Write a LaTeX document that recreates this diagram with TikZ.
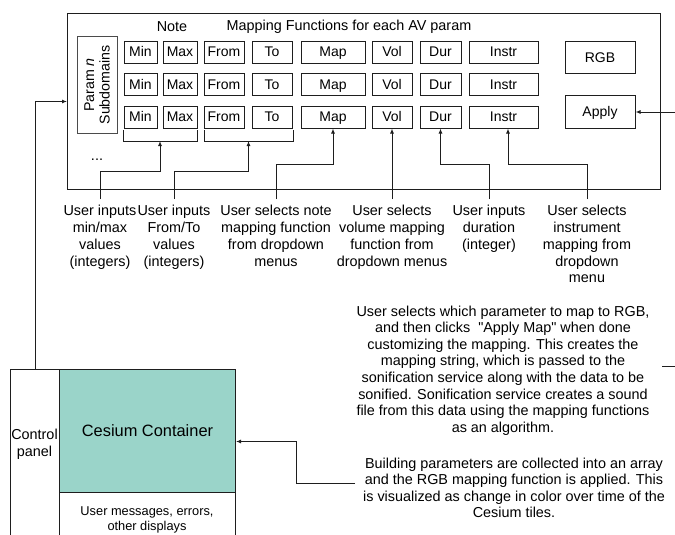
\documentclass[tikz,border=0pt]{standalone}
\usepackage{fontspec}
\setmainfont{Liberation Sans}[Ligatures=TeXOff]
\usetikzlibrary{arrows.meta,calc}
\definecolor{tealfill}{RGB}{154,212,201}
\definecolor{edge}{RGB}{30,30,30}
\begin{document}
\begin{tikzpicture}[x=1pt,y=-1pt,
  cell/.style={draw=edge, line width=1pt, minimum height=22pt, inner sep=0pt, text height=10.5pt, text depth=2pt, font=\fontsize{14}{16}\selectfont},
  lbl/.style={align=center, inner xsep=0pt, inner ysep=6pt, anchor=north, font=\fontsize{14.4}{16.8}\selectfont},
  para/.style={align=center, inner sep=0pt, anchor=north, font=\fontsize{14.4}{16.6}\selectfont},
  hdr/.style={inner sep=0pt, font=\fontsize{14.4}{17}\selectfont},
  arr/.style={draw=edge, line width=1pt, -{Latex[length=5pt,width=4pt]}},
  conn/.style={draw=edge, line width=1pt},
  frame/.style={draw=edge, line width=1pt, inner sep=0pt, anchor=north west}]
\path[use as bounding box] (0,0) rectangle (675,535);
\clip (0,0) rectangle (675,535);

% outer panel
\node[frame, minimum width=593pt, minimum height=176pt] (outer) at (67,13) {};
\node[hdr] (note) at (172,27) {Note};
\node[hdr] (mapf) at (349,27) {Mapping Functions for each AV param};

\node[draw=edge!80, line width=1pt, rotate=90, minimum width=96pt, minimum height=40pt, align=center, inner sep=0pt, font=\fontsize{14.2}{15.5}\selectfont] (param) at (97,85) {Param \textit{n}\\Subdomains};

\foreach \r/\yy in {1/52.5,2/85,3/117}{
  \node[cell, minimum width=33pt] (min\r) at (140.5,\yy) {Min};
  \node[cell, minimum width=34pt] (max\r) at (180,\yy) {Max};
  \node[cell, minimum width=40pt] (from\r) at (224,\yy) {From};
  \node[cell, minimum width=40pt] (to\r) at (272,\yy) {To};
  \node[cell, minimum width=64pt] (map\r) at (333,\yy) {Map};
  \node[cell, minimum width=40pt] (vol\r) at (392,\yy) {Vol};
  \node[cell, minimum width=41pt] (dur\r) at (440.5,\yy) {Dur};
  \node[cell, minimum width=69pt] (instr\r) at (503.5,\yy) {Instr};
}
\node[cell, minimum width=70pt, minimum height=32pt] (rgb) at (600,58) {RGB};
\node[cell, minimum width=70pt, minimum height=32pt] (apply) at (600,112) {Apply};
\node[hdr, anchor=base] (dots) at (97,160) {...};

% brackets
\draw[conn] (123,130) -- (123,141) -- (197,141) -- (197,130);
\coordinate (b1) at (160,141);
\draw[conn] (204,130) -- (204,141) -- (293,141) -- (293,130);
\coordinate (b2) at (248.5,141);

% labels
\node[lbl] (l1) at (100,199) {User inputs\\min/max\\values\\(integers)};
\node[lbl] (l2) at (174,199) {User inputs\\From/To\\values\\(integers)};
\node[lbl] (l3) at (276,199) {User selects note\\mapping function\\from dropdown\\menus};
\node[lbl] (l4) at (392,199) {User selects\\volume mapping\\function from\\dropdown menus};
\node[lbl] (l5) at (489,199) {User inputs\\duration\\(integer)};
\node[lbl] (l6) at (587,199) {User selects\\instrument\\mapping from\\dropdown\\menu};

\draw[arr] (l1.north) -- ++(0,-28) -| (b1);
\draw[arr] (l2.north) -- ++(0,-28) -| (b2);
\draw[arr] (l3.north) -- ++(0,-35) -| (map3.south);
\draw[arr] (l4.north) -- (vol3.south);
\draw[arr] (l5.north) -- ++(0,-35) -| (dur3.south);
\draw[arr] (l6.north) -- ++(0,-35) -| ([xshift=4.5pt]instr3.south);

% paragraphs
\node[para] (p1) at (503,305.5) {User selects which parameter to map to RGB,\\
and then clicks \ "Apply Map" when done\\
customizing the mapping. This creates the\\
mapping string, which is passed to the\\
sonification service along with the data to be\\
sonified. Sonification service creates a sound\\
file from this data using the mapping functions\\
as an algorithm.};
\node[para] (p2) at (514,457.5) {Building parameters are collected into an array\\
and the RGB mapping function is applied. This\\
is visualized as change in color over time of the\\
Cesium tiles.};

% bottom application layout
\node[frame, minimum width=49pt, minimum height=180pt] (cp) at (10,369) {};
\node[hdr, align=center, font=\fontsize{14.4}{17}\selectfont] (cpl) at (34.5,444.5) {Control\\panel};
\node[frame, fill=tealfill, minimum width=176pt, minimum height=123pt, font=\fontsize{16.4}{19}\selectfont] (ces) at (59,369) {Cesium Container};
\node[frame, minimum width=176pt, minimum height=60pt] (msg) at (59,492) {};
\node[align=center, inner sep=0pt, font=\fontsize{12.8}{15}\selectfont] (msgt) at (147,519.5) {User messages, errors,\\other displays};

% connectors
\draw[arr] (cp.north) |- (outer.west);
\coordinate (pend) at (662,366);
\draw[arr] (pend) -- ++(28,0) |- (apply.east);
\coordinate (p2end) at (355,483);
\draw[arr] (p2end) -- (296,483) |- ([yshift=-10.5pt]ces.east);
\end{tikzpicture}
\end{document}
